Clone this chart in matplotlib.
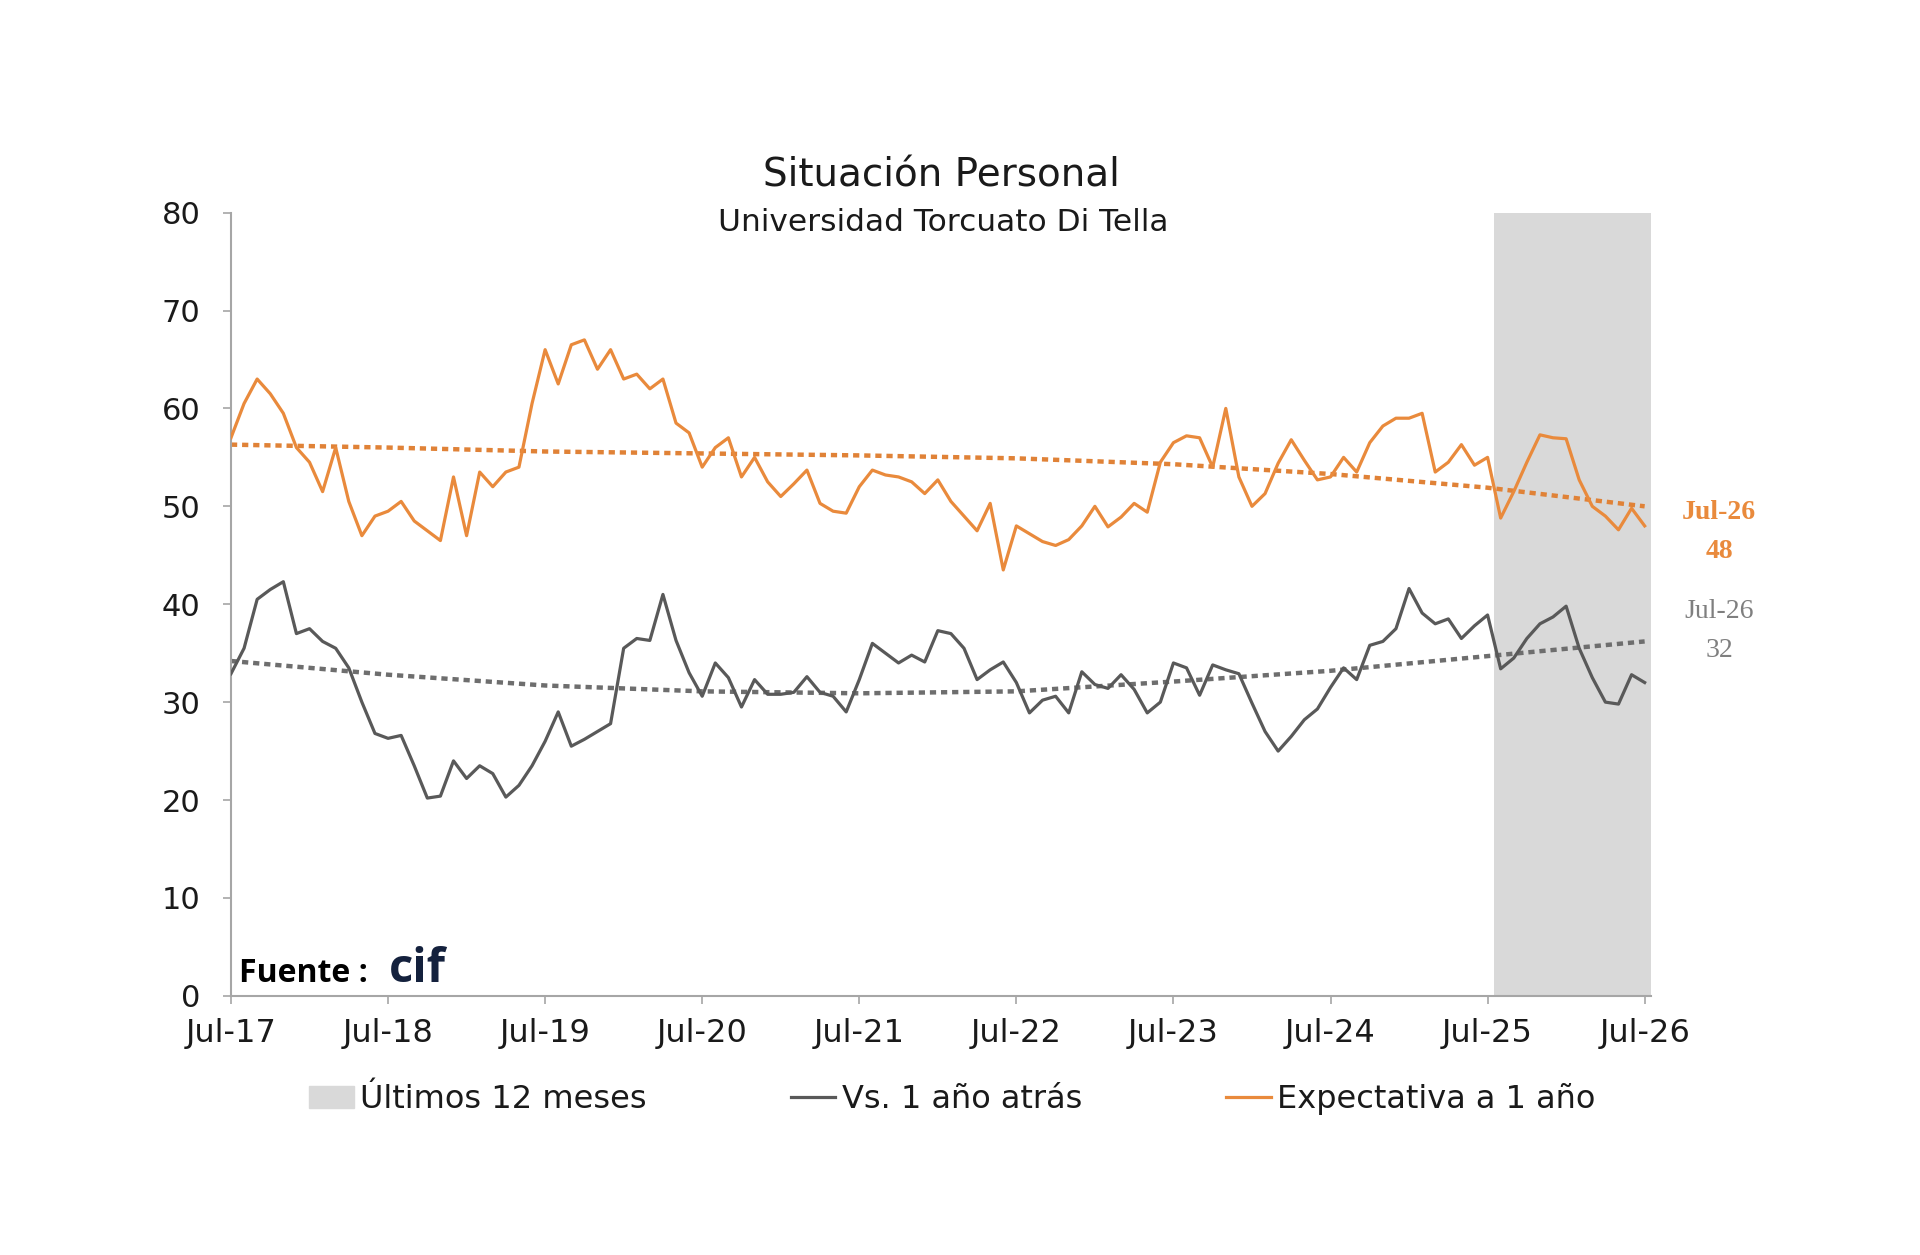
import numpy as np
import matplotlib.pyplot as plt
import matplotlib.patches as patches
from matplotlib.lines import Line2D

plt.rcParams['font.family'] = ['DejaVu Sans']

# monthly series, Jul-17 .. Jul-26 (index 0 = Jul-17)
tick_labels = ["Jul-17", "Jul-18", "Jul-19", "Jul-20", "Jul-21",
               "Jul-22", "Jul-23", "Jul-24", "Jul-25", "Jul-26"]

expectativa = [57, 60.5, 63, 61.5, 59.5, 56, 54.5, 51.5, 56, 50.5, 47, 49,
               49.5, 50.5, 48.5, 47.5, 46.5, 53, 47, 53.5, 52, 53.5, 54, 60.5,
               66, 62.5, 66.5, 67, 64, 66, 63, 63.5, 62, 63, 58.5, 57.5,
               54, 56, 57, 53, 55, 52.5, 51, 52.3, 53.7, 50.3, 49.5, 49.3,
               52, 53.7, 53.2, 53, 52.5, 51.3, 52.7, 50.5, 49, 47.5, 50.3, 43.5,
               48, 47.2, 46.4, 46, 46.6, 48, 50, 47.9, 48.9, 50.3, 49.4, 54.5,
               56.5, 57.2, 57, 54, 60, 53, 50, 51.3, 54.4, 56.8, 54.7, 52.7,
               53, 55, 53.5, 56.5, 58.2, 59, 59, 59.5, 53.5, 54.5, 56.3, 54.2,
               55, 48.8, 51.5, 54.5, 57.3, 57, 56.9, 52.7, 50, 49, 47.6, 49.8,
               48]

vs_anio = [32.9, 35.5, 40.5, 41.5, 42.3, 37, 37.5, 36.2, 35.5, 33.5, 30, 26.8,
           26.3, 26.6, 23.5, 20.2, 20.4, 24, 22.2, 23.5, 22.7, 20.3, 21.5, 23.5,
           26, 29, 25.5, 26.2, 27, 27.8, 35.5, 36.5, 36.3, 41, 36.3, 33,
           30.6, 34, 32.5, 29.5, 32.3, 30.8, 30.8, 31, 32.6, 31, 30.6, 29,
           32.3, 36, 35, 34, 34.8, 34.1, 37.3, 37, 35.5, 32.3, 33.3, 34.1,
           32, 28.9, 30.2, 30.6, 28.9, 33.1, 31.8, 31.4, 32.8, 31.3, 28.9, 30,
           34, 33.5, 30.7, 33.8, 33.3, 32.9, 29.9, 27, 25, 26.5, 28.2, 29.3,
           31.5, 33.5, 32.3, 35.8, 36.2, 37.5, 41.6, 39.1, 38, 38.5, 36.5, 37.8,
           38.9, 33.4, 34.5, 36.5, 38, 38.7, 39.8, 35.5, 32.5, 30, 29.8, 32.8,
           32]

# dotted trend lines, read at each July
tend_expectativa = [56.3, 56.0, 55.6, 55.4, 55.2, 54.9, 54.3, 53.3, 51.9, 50.0]
tend_vs_anio = [34.2, 32.8, 31.7, 31.1, 30.9, 31.1, 32.1, 33.2, 34.7, 36.2]

ultimos_meses = 12
ymax = 80

ORANGE = '#e98a3c'
ORANGE_T = '#e08237'
GRAY = '#595959'
GRAY_T = '#6e6e6e'
SHADE = '#d9d9d9'

fig = plt.figure(figsize=(19.2, 12.55), dpi=100)
ax = fig.add_axes([0.1203, 0.2065, 0.7397, 0.6241])

x = np.arange(len(expectativa))
x_anual = x[::12]

# shaded last 12 months
ax.bar(x[-ultimos_meses:], [ymax] * ultimos_meses, width=1.0, color=SHADE,
       edgecolor='none', zorder=1)

ax.plot(x_anual, tend_expectativa, color=ORANGE_T, lw=3.2,
        linestyle=(0, (1.4, 1.1)), zorder=2)
ax.plot(x_anual, tend_vs_anio, color=GRAY_T, lw=3.2,
        linestyle=(0, (1.4, 1.1)), zorder=2)

ax.plot(x, vs_anio, color=GRAY, lw=2.3, zorder=3)
ax.plot(x, expectativa, color=ORANGE, lw=2.3, zorder=3)

ax.set_xlim(0, len(x) - 0.5)
ax.set_ylim(0, ymax)
ax.set_yticks(range(0, 81, 10))
ax.set_xticks(x_anual)
ax.set_xticklabels(tick_labels)
ax.tick_params(axis='both', labelsize=22, colors='#a6a6a6',
               labelcolor='#1a1a1a', length=6, width=1.2)
ax.tick_params(axis='x', pad=10, labelsize=23)
ax.tick_params(axis='y', pad=16)
for s in ['top', 'right']:
    ax.spines[s].set_visible(False)
for s in ['left', 'bottom']:
    ax.spines[s].set_color('#a6a6a6')
    ax.spines[s].set_linewidth(1.5)

# end labels
ax.text(len(x) + 4.7, expectativa[-1] - 0.6,
        tick_labels[-1] + "\n" + str(round(expectativa[-1])),
        color=ORANGE, fontsize=20, fontweight='bold', ha='center', va='center',
        family='Liberation Serif', linespacing=1.75, clip_on=False)
ax.text(len(x) + 4.7, vs_anio[-1] + 5.3,
        tick_labels[-1] + "\n" + str(round(vs_anio[-1])),
        color='#7f7f7f', fontsize=20, ha='center', va='center',
        family='Liberation Serif', linespacing=1.75, clip_on=False)

# titles
fig.text(0.4905, 0.86, "Situación Personal", ha='center', va='center',
         fontsize=28, color='#1a1a1a')
fig.text(0.4915, 0.823, "Universidad Torcuato Di Tella", ha='center',
         va='center', fontsize=22.5, color='#1a1a1a')

# source
ax.text(0.006, 0.018, "Fuente : ", transform=ax.transAxes, fontsize=23,
        fontweight='bold', color='black', family='Open Sans', va='baseline')
ax.text(0.111, 0.018, "cif", transform=ax.transAxes, fontsize=34,
        fontweight='bold', color='#14213d', family='Open Sans', va='baseline')

handles = [patches.Patch(color=SHADE),
           Line2D([], [], color=GRAY, lw=2.3),
           Line2D([], [], color=ORANGE, lw=2.3)]
fig.legend(handles, ["Últimos 12 meses", "Vs. 1 año atrás", "Expectativa a 1 año"],
           loc='center', bbox_to_anchor=(0.496, 0.124), ncol=3, frameon=False,
           fontsize=23, handlelength=1.4, handletextpad=0.2,
           columnspacing=4.5, labelcolor='#1a1a1a')

fig.savefig("out.png", dpi=100, facecolor='white')
